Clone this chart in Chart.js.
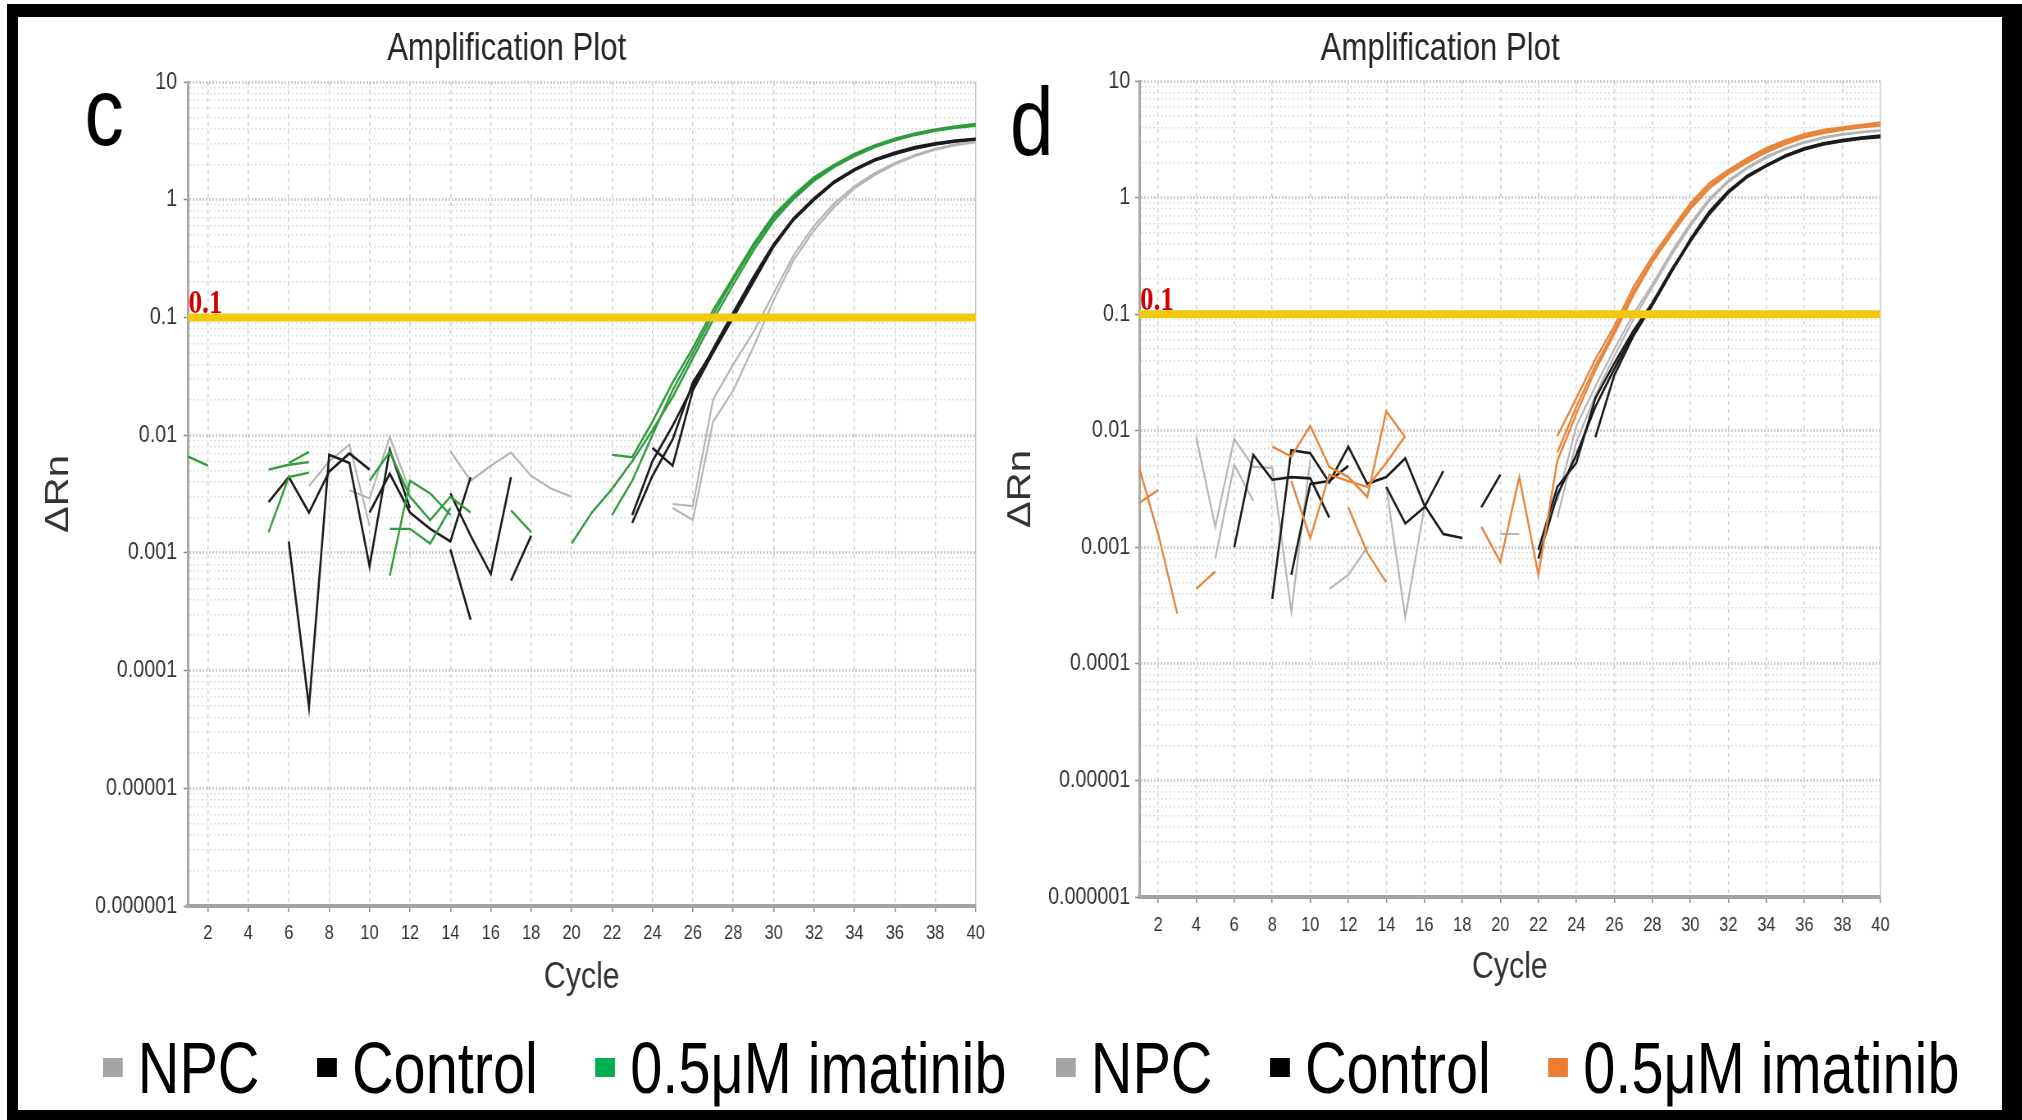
<!DOCTYPE html>
<html>
<head>
<meta charset="utf-8">
<title>Amplification Plot</title>
<script src="https://cdn.jsdelivr.net/npm/chart.js@4.4.1/dist/chart.umd.min.js"></script>
<style>
  html, body { margin: 0; padding: 0; background: #fff; }
  body { width: 2022px; height: 1120px; position: relative; overflow: hidden; }
  #frame { position: absolute; left: 7px; top: 4px; width: 2015px; height: 1116px; background: #000; }
  #inner { position: absolute; left: 18px; top: 17px; width: 1984px; height: 1093px; background: #fff; }
  /* the source figure is horizontally squeezed, so are the charts */
  canvas { position: absolute; transform: scaleX(0.82); transform-origin: 0 0; }
  #chartC { left: 18px; top: 17px; }
  #chartD { left: 999px; top: 17px; }
  .legend { position: absolute; top: 1031px; height: 73px; display: flex; align-items: center;
            transform: scaleX(0.79); transform-origin: 0 50%;
            font-family: "Liberation Sans", Arial, sans-serif;
            font-size: 73px; line-height: 1; color: #000; white-space: nowrap; }
  #legendC { left: 103px; }
  #legendD { left: 1056px; }
  .legend .item { display: flex; align-items: center; margin-right: 73px; }
  .legend .swatch { display: inline-block; width: 25px; height: 19px; margin-right: 19px; }
</style>
</head>
<body>
<div id="frame"></div>
<div id="inner"></div>
<canvas id="chartC" width="1188" height="983"></canvas>
<canvas id="chartD" width="1096" height="974"></canvas>
<div id="legendC" class="legend"></div>
<div id="legendD" class="legend"></div>
<script>
// cycles on the x axis
const cycles = [1, 2, 3, 4, 5, 6, 7, 8, 9, 10, 11, 12, 13, 14, 15, 16, 17, 18, 19, 20,
  21, 22, 23, 24, 25, 26, 27, 28, 29, 30, 31, 32, 33, 34, 35, 36, 37, 38, 39, 40];
const xTickValues = [2, 4, 6, 8, 10, 12, 14, 16, 18, 20, 22, 24, 26, 28, 30, 32, 34, 36, 38, 40];
const yDecades = [0.000001, 0.00001, 0.0001, 0.001, 0.01, 0.1, 1, 10];
const yTickLabels = ['0.000001', '0.00001', '0.0001', '0.001', '0.01', '0.1', '1', '10'];
const groups = ['NPC', 'Control', '0.5\u03bcM imatinib'];
const threshold = 0.1;
const thresholdLabel = '0.1';

// panel c : delta Rn per cycle (null = negative, not drawn on the log axis)
const cNpc1 = [null, null, null, null, null, null, 0.0037, 0.0060, 0.0083, 0.0017,
  null, null, null, 0.0073, 0.0041, 0.0055, 0.0071, 0.0045, 0.0035, 0.0030,
  null, null, null, null, 0.0026, 0.0025, 0.020, 0.040, 0.075, 0.16,
  0.34, 0.60, 0.93, 1.30, 1.68, 2.05, 2.40, 2.70, 2.95, 3.15];
const cNpc2 = [null, null, null, null, null, null, null, null, 0.0034, 0.0029,
  0.0097, 0.0033, null, null, null, null, null, null, null, null,
  null, null, null, null, 0.0024, 0.0019, 0.013, 0.024, 0.056, 0.14,
  0.31, 0.55, 0.87, 1.25, 1.62, 2.00, 2.35, 2.66, 2.90, 3.08];
const cCtrl1 = [null, null, null, null, 0.0027, 0.0044, 0.0022, 0.0049, 0.0070, 0.0051,
  null, null, null, 0.0032, 0.0014, 0.00066, 0.0044, null, null, null,
  null, null, 0.0018, 0.0045, 0.0092, 0.028, 0.052, 0.105, 0.21, 0.41,
  0.68, 1.00, 1.40, 1.78, 2.15, 2.45, 2.72, 2.95, 3.12, 3.25];
const cCtrl2 = [null, null, null, null, null, 0.00125, 0.000049, 0.0068, 0.0058, 0.00077,
  0.0075, 0.0024, null, 0.00107, 0.00027, null, 0.00058, 0.0014, null, null,
  null, null, null, 0.0078, 0.0055, 0.024, 0.050, 0.100, 0.20, 0.40,
  0.68, 1.00, 1.40, 1.80, 2.18, 2.48, 2.75, 2.97, 3.14, 3.28];
const cCtrl3 = [null, null, null, null, null, null, null, null, null, 0.0022,
  0.0047, 0.0022, 0.0016, 0.00125, 0.0044, null, null, null, null, null,
  null, null, 0.0021, 0.0060, 0.012, 0.026, 0.054, 0.11, 0.22, 0.42,
  0.70, 1.03, 1.43, 1.82, 2.20, 2.52, 2.80, 3.02, 3.18, 3.30];
const cDrug1 = [0.0066, 0.0055, null, null, 0.0051, 0.0056, 0.0059, null, null, 0.0041,
  0.0072, 0.0030, 0.0019, 0.0030, 0.0022, null, null, null, null, null,
  null, 0.0068, 0.0065, 0.013, 0.028, 0.055, 0.115, 0.22, 0.42, 0.74,
  1.10, 1.55, 1.98, 2.45, 2.90, 3.30, 3.65, 3.95, 4.20, 4.40];
const cDrug2 = [null, null, null, null, null, 0.0058, 0.0072, null, null, null,
  0.00064, 0.0041, 0.0032, 0.0021, null, null, 0.0023, 0.0015, null, null,
  null, 0.0021, 0.0041, 0.010, 0.024, 0.050, 0.105, 0.21, 0.40, 0.70,
  1.06, 1.50, 1.93, 2.40, 2.85, 3.25, 3.60, 3.90, 4.12, 4.30];
const cDrug3 = [null, null, null, null, 0.0015, 0.0044, 0.0048, null, null, null,
  0.0016, 0.0016, 0.0012, 0.0024, null, null, null, null, null, 0.0012,
  0.0022, 0.0035, 0.0060, 0.011, 0.021, 0.045, 0.095, 0.19, 0.37, 0.66,
  1.02, 1.45, 1.90, 2.35, 2.80, 3.20, 3.55, 3.85, 4.08, 4.25];

// panel d
const dNpc1 = [null, null, null, 0.0088, 0.0015, 0.0085, 0.0049, 0.0048, 0.00028, 0.0056,
  null, null, null, 0.0033, 0.00025, 0.0022, null, null, null, 0.0013,
  0.0013, null, 0.0025, 0.011, 0.024, 0.050, 0.100, 0.18, 0.34, 0.60,
  0.98, 1.40, 1.82, 2.25, 2.65, 3.00, 3.30, 3.50, 3.66, 3.80];
const dNpc2 = [null, null, null, null, 0.0008, 0.0051, 0.0025, null, null, null,
  0.00044, 0.00058, 0.0010, null, null, null, null, null, null, null,
  null, null, 0.0018, 0.008, 0.020, 0.044, 0.090, 0.17, 0.32, 0.57,
  0.94, 1.36, 1.78, 2.20, 2.60, 2.95, 3.25, 3.46, 3.62, 3.75];
const dCtrl1 = [null, null, null, null, null, null, null, 0.00036, 0.0068, 0.0064,
  0.0036, 0.0073, 0.0035, 0.0040, 0.0058, 0.0023, 0.0013, 0.0012, null, null,
  null, 0.00095, 0.0033, 0.0053, 0.019, 0.038, 0.072, 0.125, 0.24, 0.43,
  0.74, 1.12, 1.52, 1.88, 2.28, 2.62, 2.88, 3.08, 3.24, 3.35];
const dCtrl2 = [null, null, null, null, null, 0.0010, 0.0062, 0.0038, 0.0040, 0.0039,
  0.0018, null, null, 0.0033, 0.0016, 0.0022, 0.0045, null, 0.0022, 0.0042,
  null, null, null, null, 0.0088, 0.030, 0.065, 0.12, 0.23, 0.44,
  0.76, 1.14, 1.54, 1.90, 2.30, 2.65, 2.92, 3.12, 3.28, 3.40];
const dCtrl3 = [null, null, null, null, null, null, null, null, 0.00058, 0.0035,
  0.0037, 0.0050, null, null, null, null, null, null, null, null,
  null, 0.0008, 0.0028, 0.0062, 0.016, 0.034, 0.068, 0.12, 0.23, 0.42,
  0.72, 1.10, 1.50, 1.86, 2.25, 2.58, 2.85, 3.05, 3.20, 3.30];
const dDrug1 = [0.0048, 0.0013, 0.00027, null, null, null, null, 0.0073, 0.0060, 0.011,
  0.0049, 0.0040, 0.0027, 0.0147, 0.0088, null, null, null, null, null,
  null, null, 0.0090, 0.019, 0.041, 0.079, 0.17, 0.31, 0.53, 0.89,
  1.33, 1.72, 2.17, 2.65, 3.10, 3.50, 3.80, 4.00, 4.20, 4.40];
const dDrug2 = [0.0024, 0.0031, null, 0.00044, 0.00062, null, null, null, 0.0037, 0.0012,
  0.0042, 0.0037, 0.0033, 0.0053, 0.0090, null, null, null, null, null,
  null, null, 0.0065, 0.016, 0.036, 0.072, 0.155, 0.29, 0.50, 0.84,
  1.26, 1.65, 2.08, 2.55, 2.98, 3.38, 3.68, 3.90, 4.08, 4.25];
const dDrug3 = [null, null, null, null, null, null, null, null, null, null,
  null, 0.0022, 0.0009, 0.0005, null, null, null, null, 0.0015, 0.00075,
  0.0040, 0.00058, 0.0055, 0.014, 0.033, 0.068, 0.145, 0.28, 0.48, 0.80,
  1.20, 1.60, 2.00, 2.45, 2.88, 3.28, 3.58, 3.82, 4.00, 4.15];

const SANS = '"Liberation Sans", Arial, sans-serif';
const YELLOW = '#f2c811';
const GRAY_LINE = '#b5b5b5';
const BLACK_LINE = '#1c1c1c';

function isDecade(v) {
  return yDecades.some(d => Math.abs(v / d - 1) < 1e-6);
}

// grid positions on the log axis: 1..9 x each decade
const yGridValues = [];
yDecades.forEach((d, i) => {
  if (i === yDecades.length - 1) { yGridValues.push(d); return; }
  for (let m = 1; m <= 9; m++) yGridValues.push(d * m);
});

function line(values, color, width) {
  return { data: values, borderColor: color, borderWidth: width, pointRadius: 0, fill: false, tension: 0 };
}

const panelText = {
  id: 'panelText',
  afterDatasetsDraw(chart, args, opts) {
    const { ctx, chartArea, scales } = chart;
    ctx.save();
    ctx.fillStyle = '#000';
    ctx.font = '96px ' + SANS;
    ctx.textAlign = 'center';
    ctx.textBaseline = 'alphabetic';
    ctx.fillText(opts.letter, opts.letterX, opts.letterY);
    ctx.fillStyle = '#d00000';
    ctx.font = 'bold 33px "Liberation Serif", serif';
    ctx.textAlign = 'left';
    ctx.textBaseline = 'alphabetic';
    ctx.fillText(thresholdLabel, chartArea.left + 1, scales.y.getPixelForValue(threshold) - 4);
    ctx.restore();
  }
};

const htmlLegend = {
  id: 'htmlLegend',
  afterUpdate(chart, args, opts) {
    const box = document.getElementById(opts.containerID);
    if (!box) return;
    box.innerHTML = '';
    chart.options.plugins.legend.labels.generateLabels(chart).forEach(item => {
      const entry = document.createElement('div');
      entry.className = 'item';
      const swatch = document.createElement('span');
      swatch.className = 'swatch';
      swatch.style.background = item.fillStyle;
      const label = document.createElement('span');
      label.textContent = item.text;
      entry.appendChild(swatch);
      entry.appendChild(label);
      box.appendChild(entry);
    });
  }
};

function makeChart(canvasId, p) {
  const datasets = [
    { data: [{ x: cycles[0], y: threshold }, { x: cycles[cycles.length - 1], y: threshold }],
      borderColor: YELLOW, borderWidth: 8, pointRadius: 0, fill: false }
  ];
  p.drug.forEach(v => datasets.push(line(v, p.drugColor, 2.4)));
  p.ctrl.forEach(v => datasets.push(line(v, BLACK_LINE, 2.6)));
  p.npc.forEach(v => datasets.push(line(v, GRAY_LINE, 2.2)));

  return new Chart(document.getElementById(canvasId), {
    type: 'line',
    data: { labels: cycles, datasets: datasets },
    options: {
      responsive: false,
      animation: false,
      devicePixelRatio: 1,
      events: [],
      layout: { padding: p.layoutPadding },
      plugins: {
        legend: {
          display: false,
          labels: {
            generateLabels: () => groups.map((g, i) => ({ text: g, fillStyle: p.legendColors[i] }))
          }
        },
        tooltip: { enabled: false },
        title: {
          display: true,
          text: 'Amplification Plot',
          color: '#262626',
          font: { family: SANS, size: 38, weight: 'normal' },
          padding: { top: 10, bottom: p.titleBottom }
        },
        htmlLegend: { containerID: p.legendId },
        panelText: { letter: p.letter, letterX: p.letterX, letterY: p.letterY }
      },
      scales: {
        x: {
          type: 'linear',
          min: 1,
          max: 40,
          afterBuildTicks: s => { s.ticks = xTickValues.map(v => ({ value: v })); },
          afterFit: s => { s.height = 94; },
          ticks: { font: { family: SANS, size: 20 }, color: '#333', padding: p.xTickPad, maxRotation: 0, autoSkip: false },
          grid: {
            color: c => (c.tick && c.tick.value === 40) ? '#c4c4c4' : '#d2d2d2',
            lineWidth: 1.5,
            tickLength: 6,
            tickColor: '#8c8c8c',
            tickWidth: 1.5
          },
          border: {
            display: true, color: '#a3a3a3', width: 4,
            dash: c => (c.tick && c.tick.value === 40) ? [] : [4, 4]
          },
          title: {
            display: true, text: 'Cycle', color: '#333',
            font: { family: SANS, size: 37 },
            padding: { top: 9, bottom: p.xTitleBottom }
          }
        },
        y: {
          type: 'logarithmic',
          min: yDecades[0],
          max: yDecades[yDecades.length - 1],
          afterBuildTicks: s => { s.ticks = yGridValues.map(v => ({ value: v })); },
          afterFit: s => { s.width = p.yWidth; },
          ticks: {
            autoSkip: false,
            font: { family: SANS, size: 24 },
            color: '#333',
            padding: p.yTickPad,
            callback: v => {
              const i = yDecades.findIndex(d => Math.abs(v / d - 1) < 1e-6);
              return i >= 0 ? yTickLabels[i] : '';
            }
          },
          grid: {
            color: c => (c.tick && isDecade(c.tick.value)) ? '#cdcdcd' : '#dddddd',
            lineWidth: c => (c.tick && isDecade(c.tick.value)) ? 3 : 1.5,
            tickLength: 5,
            tickWidth: 1.5,
            tickColor: c => (c.tick && isDecade(c.tick.value)) ? '#8c8c8c' : 'rgba(0,0,0,0)'
          },
          border: {
            display: true, color: '#a8a8a8', width: 3,
            dash: c => (c.tick && isDecade(c.tick.value)) ? [2, 2] : [2, 3]
          },
          title: {
            display: true, text: '\u0394Rn', color: '#333',
            font: { family: SANS, size: 40 },
            padding: { top: p.yTitleTop, bottom: 0 }
          }
        }
      }
    },
    plugins: [panelText, htmlLegend]
  });
}

makeChart('chartC', {
  drug: [cDrug1, cDrug2, cDrug3], ctrl: [cCtrl1, cCtrl2, cCtrl3], npc: [cNpc1, cNpc2],
  drugColor: '#2f9c3d',
  legendColors: ['#a5a5a5', '#000000', '#00b050'],
  legendId: 'legendC',
  layoutPadding: { left: 24, right: 20, top: 0, bottom: 0 },
  titleBottom: 9.4, yWidth: 183, yTickPad: 8, xTickPad: 9, xTitleBottom: 0, yTitleTop: 2,
  letter: 'c', letterX: 105, letterY: 128
});

makeChart('chartD', {
  drug: [dDrug1, dDrug2, dDrug3], ctrl: [dCtrl1, dCtrl2, dCtrl3], npc: [dNpc1, dNpc2],
  drugColor: '#e8853b',
  legendColors: ['#a5a5a5', '#000000', '#ed7d31'],
  legendId: 'legendD',
  layoutPadding: { left: 0, right: 20, top: 0, bottom: 0 },
  titleBottom: 8.4, yWidth: 171, yTickPad: 6, xTickPad: 10, xTitleBottom: 1.5, yTitleTop: 3,
  letter: 'd', letterX: 40, letterY: 138
});
</script>
</body>
</html>
